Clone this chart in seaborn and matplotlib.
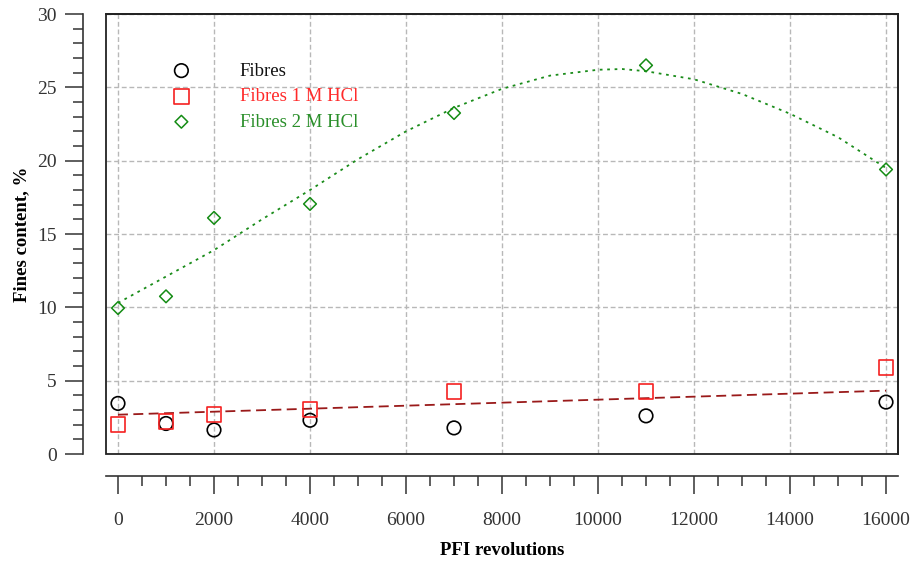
import numpy as np
import pandas as pd
import seaborn as sns
import matplotlib.pyplot as plt
from matplotlib.patches import Rectangle
from matplotlib.ticker import MultipleLocator

# data
revolutions = [0, 1000, 2000, 4000, 7000, 11000, 16000]
fibres = [3.45, 2.08, 1.64, 2.30, 1.78, 2.60, 3.54]
fibres_1m = [2.03, 2.19, 2.72, 3.01, 4.25, 4.25, 5.90]
fibres_2m = [9.95, 10.75, 16.1, 17.05, 23.25, 26.5, 19.4]

# trend lines
lin_x = [0, 16000]
lin_y = [2.68, 4.32]
curve_x = [0, 1000, 2000, 3000, 4000, 5000, 6000, 7000, 8000, 9000,
           10000, 10500, 11000, 12000, 13000, 14000, 15000, 16000]
curve_y = [10.3, 12.1, 13.9, 16.0, 18.0, 20.1, 22.0, 23.6, 24.9, 25.8,
           26.2, 26.25, 26.1, 25.55, 24.55, 23.2, 21.6, 19.5]

labels = ['Fibres', 'Fibres 1 M HCl', 'Fibres 2 M HCl']
colors = ['black', '#f52020', '#148c14']
text_colors = ['#111111', '#ff2a2a', '#2a8f2a']

plt.rcParams['font.family'] = ['Liberation Serif', 'DejaVu Serif']

fig, ax = plt.subplots(figsize=(9.13, 5.63), dpi=100)
fig.subplots_adjust(left=0.1161, right=0.9836, bottom=0.1936, top=0.9751)

# fit lines
sns.lineplot(x=curve_x, y=curve_y, ax=ax, color='#1a8c1a', lw=1.3,
             linestyle=(0, (1.5, 2.6)), errorbar=None, sort=False, zorder=2)
sns.lineplot(x=lin_x, y=lin_y, ax=ax, color='#9a1a1a', lw=1.3,
             linestyle=(0, (5.5, 3)), errorbar=None, sort=False, zorder=2)

# points
sns.scatterplot(x=revolutions, y=fibres, ax=ax, marker='o', s=95,
                facecolor='none', edgecolor=colors[0], color=colors[0],
                linewidth=1.2, label=labels[0], zorder=3)
sns.scatterplot(x=revolutions, y=fibres_1m, ax=ax, marker='s', s=115,
                facecolor='none', edgecolor=colors[1], color=colors[1],
                linewidth=1.2, label=labels[1], zorder=3)
sns.scatterplot(x=revolutions, y=fibres_2m, ax=ax, marker='D', s=42,
                facecolor='none', edgecolor=colors[2], color=colors[2],
                linewidth=1.1, label=labels[2], zorder=3)

ax.set_xlim(-250, 16250)
ax.set_ylim(0, 30)
ax.xaxis.set_major_locator(MultipleLocator(2000))
ax.xaxis.set_minor_locator(MultipleLocator(500))
ax.yaxis.set_major_locator(MultipleLocator(5))
ax.yaxis.set_minor_locator(MultipleLocator(1))

ax.grid(True, which='major', color='#b8b8b8', linestyle=(0, (3.5, 2)), lw=1.0)
ax.set_axisbelow(True)

# detached axes
ax.spines['left'].set_position(('outward', 16.5))
ax.spines['bottom'].set_position(('outward', 16))
for s in ['left', 'bottom']:
    ax.spines[s].set_color('#333333')
    ax.spines[s].set_linewidth(1.2)
for s in ['top', 'right']:
    ax.spines[s].set_color('#222222')
    ax.spines[s].set_linewidth(1.3)
ax.add_patch(Rectangle((0, 0), 1, 1, transform=ax.transAxes, fill=False,
                       edgecolor='#222222', lw=1.3, clip_on=False, zorder=5))

ax.tick_params(which='major', direction='out', length=13, width=1.1,
               color='#333333', labelsize=14, labelcolor='#333333')
ax.tick_params(which='minor', direction='out', length=7.5, width=1.1,
               color='#333333')
ax.tick_params(axis='x', which='major', pad=13)
ax.tick_params(axis='y', which='major', pad=6)

ax.set_xlabel('PFI revolutions', fontsize=13.5, fontweight='bold', labelpad=9)
ax.set_ylabel('Fines content, %', fontsize=13.5, fontweight='bold', labelpad=5)

leg = ax.legend(loc='upper left', bbox_to_anchor=(0.0715, 0.89),
                frameon=False, borderpad=0, borderaxespad=0,
                handlelength=2, handletextpad=2.1, labelspacing=0.45,
                fontsize=13.5)
for t, c in zip(leg.get_texts(), text_colors):
    t.set_color(c)

fig.savefig('out.png', dpi=100)
